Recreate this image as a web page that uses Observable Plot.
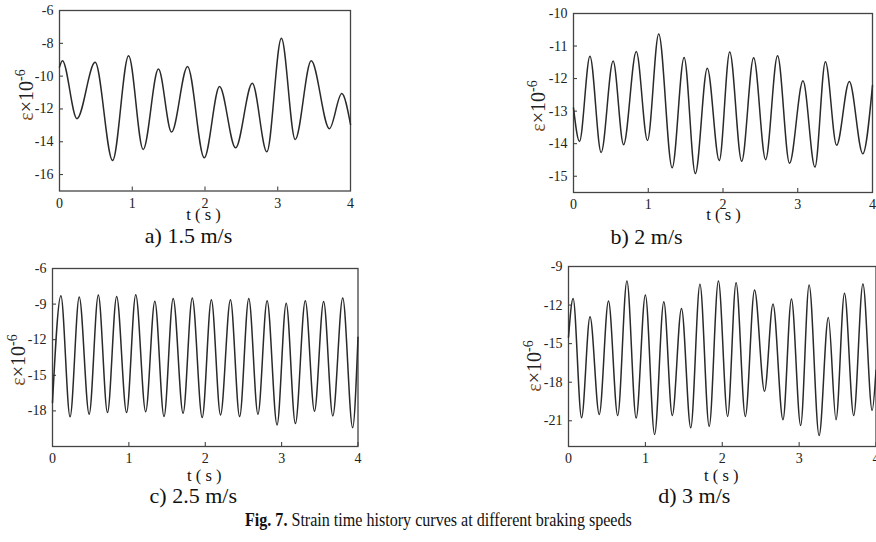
<!DOCTYPE html>
<html>
<head>
<meta charset="utf-8">
<script src="https://cdn.jsdelivr.net/npm/d3@7"></script>
<script src="https://cdn.jsdelivr.net/npm/@observablehq/plot@0.6"></script>
<style>
  body { margin: 0; background: #fff; }
  #root { position: relative; width: 876px; height: 542px; overflow: hidden; background: #fff;
          font-family: "Liberation Serif", "Times New Roman", serif; }
  .panel { position: absolute; }
  #caption { position: absolute; left: 0; top: 500px; }
</style>
</head>
<body>
<div id="root"></div>
<script>
// ---- Data ----
const xTicks = [0, 1, 2, 3, 4];

// a) 1.5 m/s
const tA = [0, 0.04, 0.24, 0.49, 0.73, 0.95, 1.15, 1.36, 1.54, 1.76, 1.99, 2.20, 2.42, 2.65, 2.85, 3.05, 3.24, 3.46, 3.71, 3.88, 4.0];
const eA = [-9.45, -9.06, -12.59, -9.16, -15.14, -8.76, -14.47, -9.57, -13.41, -9.41, -14.98, -10.63, -14.37, -10.43, -14.61, -7.69, -13.86, -9.06, -13.2, -11.06, -12.94];
const yTicksA = [-16, -14, -12, -10, -8, -6];

// b) 2 m/s
const tB = [0, 0.08, 0.22, 0.37, 0.53, 0.67, 0.84, 0.99, 1.14, 1.32, 1.48, 1.63, 1.79, 1.95, 2.09, 2.25, 2.41, 2.57, 2.73, 2.89, 3.07, 3.23, 3.37, 3.52, 3.69, 3.87, 4.0];
const eB = [-12.9, -13.93, -11.31, -14.27, -11.46, -14.03, -11.17, -13.9, -10.63, -14.74, -11.35, -14.92, -11.68, -14.52, -11.18, -14.54, -11.36, -14.49, -11.30, -14.60, -12.07, -14.72, -11.48, -14.05, -12.09, -14.31, -12.21];
const yTicksB = [-15, -14, -13, -12, -11, -10];

// c) 2.5 m/s
const tC = [0, 0.11, 0.23, 0.35, 0.48, 0.60, 0.72, 0.84, 0.97, 1.09, 1.22, 1.34, 1.46, 1.58, 1.71, 1.83, 1.96, 2.08, 2.20, 2.33, 2.45, 2.57, 2.69, 2.81, 2.94, 3.06, 3.18, 3.31, 3.43, 3.55, 3.67, 3.80, 3.93, 4.0];
const eC = [-17.3, -8.30, -18.5, -8.41, -18.28, -8.24, -18.14, -8.35, -18.14, -8.21, -18.08, -8.75, -18.48, -8.52, -18.2, -8.49, -18.56, -8.63, -18.34, -8.63, -18.48, -8.52, -18.28, -8.72, -19.18, -8.92, -19.07, -8.72, -18.03, -8.78, -18.42, -8.49, -19.41, -11.8];
const yTicksC = [-18, -15, -12, -9, -6];

// d) 3 m/s
const tD = [0, 0.06, 0.17, 0.28, 0.40, 0.52, 0.64, 0.76, 0.88, 1.00, 1.12, 1.24, 1.35, 1.47, 1.59, 1.71, 1.83, 1.95, 2.07, 2.18, 2.30, 2.42, 2.55, 2.66, 2.79, 2.90, 3.02, 3.13, 3.26, 3.38, 3.48, 3.59, 3.71, 3.83, 3.95, 4.0];
const eD = [-14.5, -11.48, -20.77, -12.91, -20.51, -11.69, -20.59, -10.13, -20.79, -11.22, -22.07, -11.74, -20.59, -12.26, -21.55, -10.39, -21.44, -10.13, -20.66, -10.26, -20.66, -10.83, -18.71, -11.92, -20.92, -11.53, -21.36, -10.44, -22.15, -12.96, -20.92, -11.09, -20.59, -10.36, -20.19, -17.07];
const yTicksD = [-21, -18, -15, -12, -9];

const subtitles = ["a) 1.5 m/s", "b) 2 m/s", "c) 2.5 m/s", "d) 3 m/s"];
const xLabel = "t ( s )";
const captionBold = "Fig. 7.";
const captionText = " Strain time history curves at different braking speeds";

// ---- Panels ----
const root = document.getElementById("root");

function panel(cfg) {
  const data = cfg.t.map((d, i) => ({t: d, e: cfg.e[i]}));
  const [mt, mr, mb, ml] = cfg.margin;
  const svg = Plot.plot({
    width: cfg.width,
    height: cfg.height,
    marginTop: mt, marginRight: mr, marginBottom: mb, marginLeft: ml,
    style: {fontFamily: "'Liberation Serif', 'Times New Roman', serif", fontSize: "14px",
            color: "#333", background: "transparent", overflow: "visible"},
    x: {domain: [0, 4], ticks: xTicks, label: null},
    y: {domain: cfg.yDomain, ticks: cfg.yTicks, label: null},
    marks: [
      Plot.axisX({ticks: xTicks, tickSize: -4, tickPadding: 11, tickFormat: d => String(d), label: null, fill: "#222"}),
      Plot.axisY({ticks: cfg.yTicks, tickSize: -4, tickPadding: 10, tickFormat: d => String(d), label: null, fill: "#222"}),
      Plot.frame({stroke: "#444", strokeWidth: 1.3}),
      Plot.line(data, {x: "t", y: "e", curve: "monotone-x", stroke: "#2a2a2a", strokeWidth: 1.5}),
      Plot.text([xLabel], {text: d => d, frameAnchor: "bottom", dx: cfg.tDx, dy: cfg.tDy, fontSize: 16.5, fill: "#111"}),
      Plot.text([cfg.sub], {text: d => d, frameAnchor: "bottom", dx: cfg.subDx, dy: cfg.subDy, fontSize: 22, fill: "#111"})
    ]
  });
  svg.classList.add("panel");
  svg.style.left = cfg.left + "px";
  svg.style.top = cfg.top + "px";
  // y-axis label  ε×10^-6 (rotated)
  const g = d3.select(svg).append("text")
    .attr("transform", `translate(${cfg.yl[0]},${cfg.yl[1]}) rotate(-90)`)
    .attr("text-anchor", "middle")
    .attr("font-size", 20)
    .attr("fill", "#222");
  g.append("tspan").attr("fill", "#8a5212").text("ε");
  g.append("tspan").text("×10");
  g.append("tspan").attr("font-size", 14).attr("dy", -8).text("-6");
  root.appendChild(svg);
}

panel({t: tA, e: eA, yDomain: [-17, -6], yTicks: yTicksA, left: 0, top: 0, width: 440, height: 255,
       margin: [10, 90, 64.5, 59], sub: subtitles[0], subDx: -16.5, subDy: 51.5, tDx: -1.5, tDy: 28.5, yl: [33, 95]});
panel({t: tB, e: eB, yDomain: [-15.5, -10], yTicks: yTicksB, left: 440, top: 0, width: 436, height: 255,
       margin: [13, 4, 63, 133], sub: subtitles[1], subDx: -76.5, subDy: 51, tDx: 0.5, tDy: 27.5, yl: [105, 106]});
panel({t: tC, e: eC, yDomain: [-21, -6], yTicks: yTicksC, left: 0, top: 255, width: 440, height: 287,
       margin: [13, 82.5, 96, 52], sub: subtitles[2], subDx: -12, subDy: 56, tDx: -1, tDy: 34, yl: [25, 105]});
panel({t: tD, e: eD, yDomain: [-23, -9], yTicks: yTicksD, left: 440, top: 255, width: 436, height: 287,
       margin: [11, 0.5, 96, 128], sub: subtitles[3], subDx: -28, subDy: 56, tDx: -1, tDy: 34, yl: [101, 111]});

// ---- Caption (condensed to the reference's width by a horizontal scale) ----
const cap = d3.select(root).append("svg").attr("id", "caption").attr("width", 876).attr("height", 40);
const ct = cap.append("text")
  .attr("font-family", "'Liberation Serif', 'Times New Roman', serif")
  .attr("font-size", 19).attr("fill", "#111");
ct.append("tspan").attr("font-weight", "bold").text(captionBold);
ct.append("tspan").text(captionText);
const natural = ct.node().getComputedTextLength() || 480;
const sx = Math.min(1, 387 / natural);
ct.attr("transform", `translate(245,26) scale(${sx},1)`);
</script>
</body>
</html>
